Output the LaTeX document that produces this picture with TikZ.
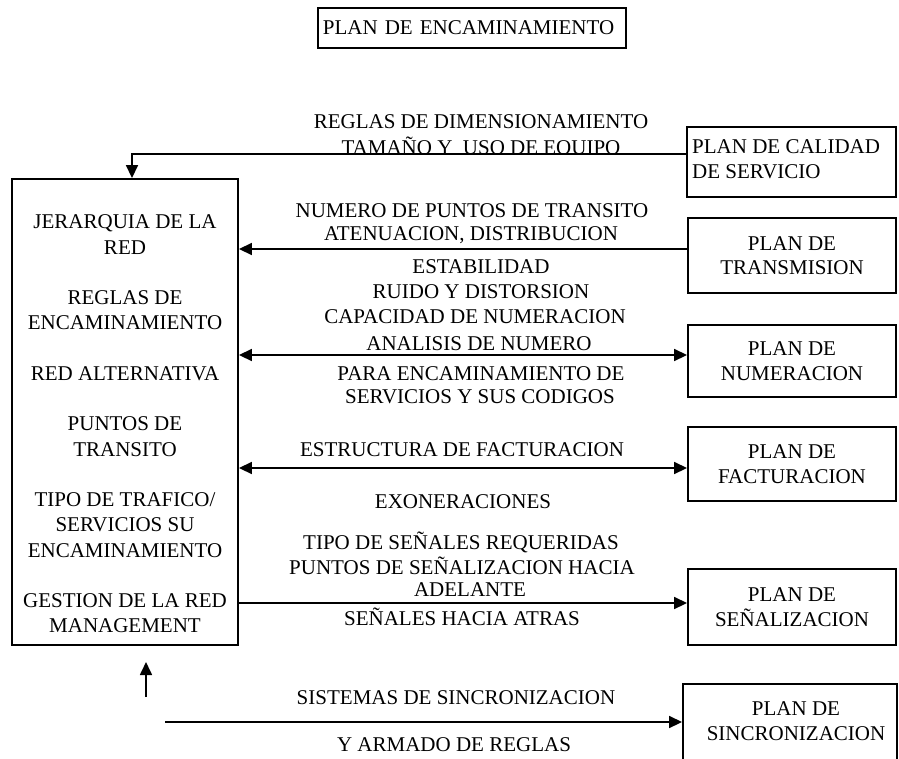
\documentclass[tikz,border=0pt]{standalone}
\usepackage{fontspec}
\setmainfont{Liberation Serif}
\usetikzlibrary{arrows.meta}
\begin{document}
\begin{tikzpicture}[x=1pt,y=-1pt,
  txt/.style={font=\fontsize{21}{24.5}\selectfont,inner sep=0pt,align=center},
  box/.style={draw,line width=1.9pt,inner sep=0pt},
  planbox/.style={box,txt,minimum width=208pt},
  conn/.style={line width=1.7pt},
  tip/.style={-{Triangle[length=13pt,width=12pt]}},
  both/.style={{Triangle[length=13pt,width=12pt]}-{Triangle[length=13pt,width=12pt]}}
]
\useasboundingbox (0,0) rectangle (899,758);

% title
\node[box,txt,anchor=west,minimum height=40pt,inner xsep=5pt,
      text width=298pt,align=left] (title) at (317,28) {PLAN DE ENCAMINAMIENTO};

% central block
\node[box,minimum width=226pt,minimum height=466pt] (lb) at (125,412) {};
\node[txt,font=\fontsize{21}{25.25}\selectfont] (lbt) at (125,424) {JERARQUIA DE LA\\RED\\[25.25pt]
  REGLAS DE\\ENCAMINAMIENTO\\[25.25pt]
  RED ALTERNATIVA\\[25.25pt]
  PUNTOS DE\\TRANSITO\\[25.25pt]
  TIPO DE TRAFICO/\\SERVICIOS SU\\ENCAMINAMIENTO\\[25.25pt]
  GESTION DE LA RED\\MANAGEMENT};

% plans on the right
\node[box,minimum width=209pt,minimum height=70pt] (cal) at (791.5,162) {};
\node[txt,anchor=west,align=left] (calt) at (692,159) {PLAN DE CALIDAD\\DE SERVICIO};
\node[planbox,minimum height=75pt] (tr) at (792,255.5) {PLAN DE\\TRANSMISION};
\node[planbox,minimum height=72pt] (nu) at (792,361) {PLAN DE\\NUMERACION};
\node[planbox,minimum height=74pt] (fa) at (792,464) {PLAN DE\\FACTURACION};
\node[planbox,minimum height=76pt] (se) at (792,607) {PLAN DE\\SEÑALIZACION};
\node[box,minimum width=214pt,minimum height=90pt] (si) at (790,729) {};
\node[txt] (sit) at (796,721) {PLAN DE\\SINCRONIZACION};

% connector levels
\coordinate (ycal) at (0,154);
\coordinate (ytr) at (0,249);
\coordinate (ynu) at (0,355);
\coordinate (yfa) at (0,468);
\coordinate (yse) at (0,603);
\coordinate (ysi) at (0,722);
\coordinate (cbend) at (132,154);
\coordinate (sstart) at (165,722);
\coordinate (ufrom) at (146,697);
\coordinate (uto) at (146,662);

% connectors
\draw[conn,tip] (cal.west |- ycal) -- (cbend) -- (cbend |- lb.north);
\draw[conn,tip] (tr.west |- ytr) -- (lb.east |- ytr);
\draw[conn,both] (lb.east |- ynu) -- (nu.west |- ynu);
\draw[conn,both] (lb.east |- yfa) -- (fa.west |- yfa);
\draw[conn,tip] (lb.east |- yse) -- (se.west |- yse);
\draw[conn,tip] (sstart) -- (si.west |- ysi);
\draw[conn,tip] (ufrom) -- (uto);

% labels along the connectors
\node[txt] (l1) at (481,122) {REGLAS DE DIMENSIONAMIENTO};
\node[txt] (l2) at (481,146) {TAMAÑO Y\ \ USO DE EOUIPO};
\node[txt] (l3) at (472,211) {NUMERO DE PUNTOS DE TRANSITO};
\node[txt] (l4) at (471,235) {ATENUACION, DISTRIBUCION};
\node[txt] (l5) at (481,267) {ESTABILIDAD};
\node[txt] (l6) at (481,292) {RUIDO Y DISTORSION};
\node[txt] (l7) at (475,317) {CAPACIDAD DE NUMERACION};
\node[txt] (l8) at (479,344) {ANALISIS DE NUMERO};
\node[txt] (l9) at (481,374) {PARA ENCAMINAMIENTO DE};
\node[txt] (l10) at (480,397) {SERVICIOS Y SUS CODIGOS};
\node[txt] (l11) at (462,450) {ESTRUCTURA DE FACTURACION};
\node[txt] (l12) at (463,502) {EXONERACIONES};
\node[txt] (l13) at (461,542) {TIPO DE SEÑALES REQUERIDAS};
\node[txt] (l14) at (462,566) {PUNTOS DE SEÑALIZACION HACIA};
\node[txt] (l15) at (470,590) {ADELANTE};
\node[txt] (l16) at (462,617) {SEÑALES HACIA ATRAS};
\node[txt] (l17) at (456,698) {SISTEMAS DE SINCRONIZACION};
\node[txt] (l18) at (454,745) {Y ARMADO DE REGLAS};
\end{tikzpicture}
\end{document}
